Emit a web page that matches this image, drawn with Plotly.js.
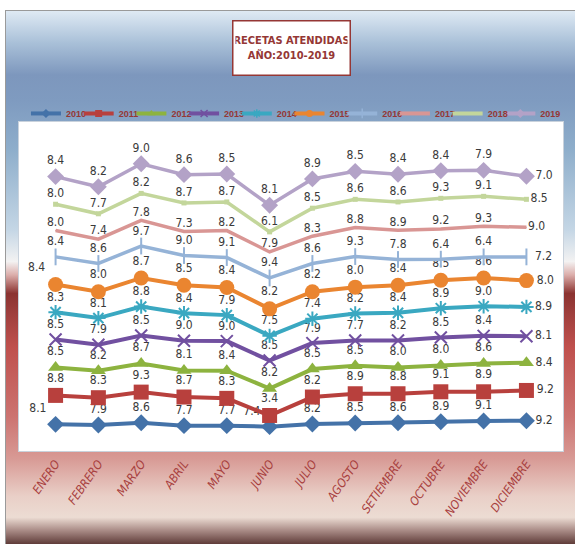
<!DOCTYPE html>
<html>
<head>
<meta charset="utf-8">
<script src="https://cdn.plot.ly/plotly-3.0.1.min.js"></script>
<style>
html,body{margin:0;padding:0;background:#ffffff;}
#wrap{position:relative;width:575px;height:544px;overflow:hidden;background:#ffffff;}
#bg{position:absolute;left:5px;top:10px;width:570px;height:534px;border-top:1px solid #9a9a9a;border-left:1px solid #9a9a9a;box-sizing:border-box;
background:linear-gradient(to bottom,#dfeaf4 0%,#a9c0d8 6%,#7d97bd 12%,#7f9bc0 17%,#8eaecb 26%,#c4d6e5 41%,#f3f2f2 47%,#dcaeab 49.5%,#8b3331 53%,#a0403e 57%,#bf504d 63%,#cc7370 76%,#d89a95 84%,#e9cfc7 91%,#ecdcd3 95%,#a88a85 97.5%,#5f3c39 100%);}
#chart{position:absolute;left:0;top:0;width:575px;height:544px;}
</style>
</head>
<body>
<div id="wrap"><div id="bg"></div><div id="chart"></div></div>
<script>
var months = ["ENERO","FEBRERO","MARZO","ABRIL","MAYO","JUNIO","JULIO","AGOSTO","SETIEMBRE","OCTUBRE","NOVIEMBRE","DICIEMBRE"];
var years = ["2010","2011","2012","2013","2014","2015","2016","2017","2018","2019"];
var v2010 = [8.1,7.9,8.6,7.7,7.7,7.4,8.2,8.5,8.6,8.9,9.1,9.2];
var v2011 = [8.8,8.3,9.3,8.7,8.3,3.4,8.2,8.9,8.8,9.1,8.9,9.2];
var v2012 = [8.5,8.2,8.7,8.1,8.4,8.2,8.5,8.5,8.0,8.0,8.6,8.4];
var v2013 = [8.5,7.9,8.5,9.0,9.0,8.5,7.9,7.7,8.2,8.5,8.4,8.1];
var v2014 = [8.3,8.1,8.8,8.4,7.9,7.5,7.4,8.2,8.4,8.9,9.0,8.9];
var v2015 = [8.4,8.0,8.7,8.5,8.4,8.2,8.2,8.0,8.4,8.5,8.6,8.0];
var v2016 = [8.4,8.6,9.7,9.0,9.1,9.4,8.6,9.3,7.8,6.4,6.4,7.2];
var v2017 = [8.0,7.4,7.8,7.3,8.2,7.9,8.3,8.8,8.9,9.2,9.3,9.0];
var v2018 = [8.0,7.7,8.2,8.7,8.7,6.1,8.5,8.6,8.6,9.3,9.1,8.5];
var v2019 = [8.4,8.2,9.0,8.6,8.5,8.1,8.9,8.5,8.4,8.4,7.9,7.0];

var series = [v2010,v2011,v2012,v2013,v2014,v2015,v2016,v2017,v2018,v2019];
var colors = ["#4472a8","#b8403d","#8db33f","#7150a0","#3aa8c1","#ea8530","#95b3d7","#d99694","#c3d69b","#b3a2c7"];
var symbols = ["diamond","square","triangle-up","x-thin-open","asterisk-open","circle","line-ns-open","circle","square","diamond"];
var msizes = [13,15,13,12,12,15,12,1,5,13];
var lwidths = [4,4,4,4,4,4,3.5,3.5,3.5,3.5];
var FONT = "Liberation Sans Narrow, DejaVu Sans Condensed, sans-serif";

var traces = series.map(function(vals,i){
  var pos = vals.map(function(v,j){ return j===vals.length-1 ? "middle right" : "top center"; });
  if(i===0 || i===5){ pos[0] = "top left"; }
  if(i===0){ pos[5] = "top left"; }
  return {
    type:"scatter", mode:"lines+markers+text", name:years[i], showlegend:false,
    x:months, y:vals, stackgroup:"s", fill:"none",
    text:vals.map(function(v){return v.toFixed(1);}),
    textposition:pos,
    textfont:{family:FONT, size:12, color:"#3a3a3a"},
    cliponaxis:false,
    line:{color:colors[i], width:lwidths[i]},
    marker:{symbol:symbols[i], size:msizes[i], color:colors[i], line:{color:colors[i], width:(i===3||i===4||i===6)?2:0}},
    hoverinfo:"x+y+name"
  };
});

var layout = {
  width:575, height:544,
  margin:{l:19, r:9, t:122, b:93},
  paper_bgcolor:"rgba(0,0,0,0)",
  plot_bgcolor:"#ffffff",
  showlegend:true,
  xaxis:{type:"category", showgrid:false, zeroline:false, ticks:"", tickangle:-55,
    showline:true, linecolor:"#c9d2dc", linewidth:1, mirror:true,
    tickfont:{family:FONT, size:12, color:"#a8403e", style:"italic"}},
  yaxis:{range:[0,100], showgrid:false, zeroline:false, showticklabels:false, ticks:"",
    showline:true, linecolor:"#c9d2dc", linewidth:1, mirror:true},
  annotations:[{
    xref:"paper", yref:"paper", x:0.5, y:1.225, xanchor:"center", yanchor:"middle",
    text:"<b>RECETAS ATENDIDAS</b><br><b>AÑO:2010-2019</b>", showarrow:false,
    font:{family:FONT, size:11, color:"#953735"},
    bgcolor:"#ffffff", bordercolor:"#953735", borderwidth:1.5, borderpad:2,
    width:112, height:49
  }]
};

// one legend per year, laid out in a single row (left-most drawn last so its text sits on top)
var plotL = 19, plotW = 575 - 19 - 9;
years.forEach(function(y,i){
  var n = years.length - i;
  var key = n===1 ? "legend" : "legend" + n;
  traces.push({
    type:"scatter", mode:"lines+markers", name:y, showlegend:true, legend:key,
    x:months, y:months.map(function(){return null;}),
    line:{color:colors[i], width:4},
    marker:{symbol:symbols[i], size:(i===7?1:(i===8?3:7)), color:colors[i], line:{color:colors[i], width:(i===3||i===4||i===6)?1.5:0}},
    hoverinfo:"skip"
  });
  var px = 26 + i*53;
  layout[key] = {orientation:"h", x:(px - plotL)/plotW, xanchor:"left", y:1.026, yanchor:"middle",
    bgcolor:"rgba(0,0,0,0)", borderwidth:0,
    font:{family:"Liberation Sans, sans-serif", size:9, color:"#953735", weight:"bold"}};
});

Plotly.newPlot("chart", traces, layout, {displayModeBar:false, staticPlot:true});
</script>
</body>
</html>
